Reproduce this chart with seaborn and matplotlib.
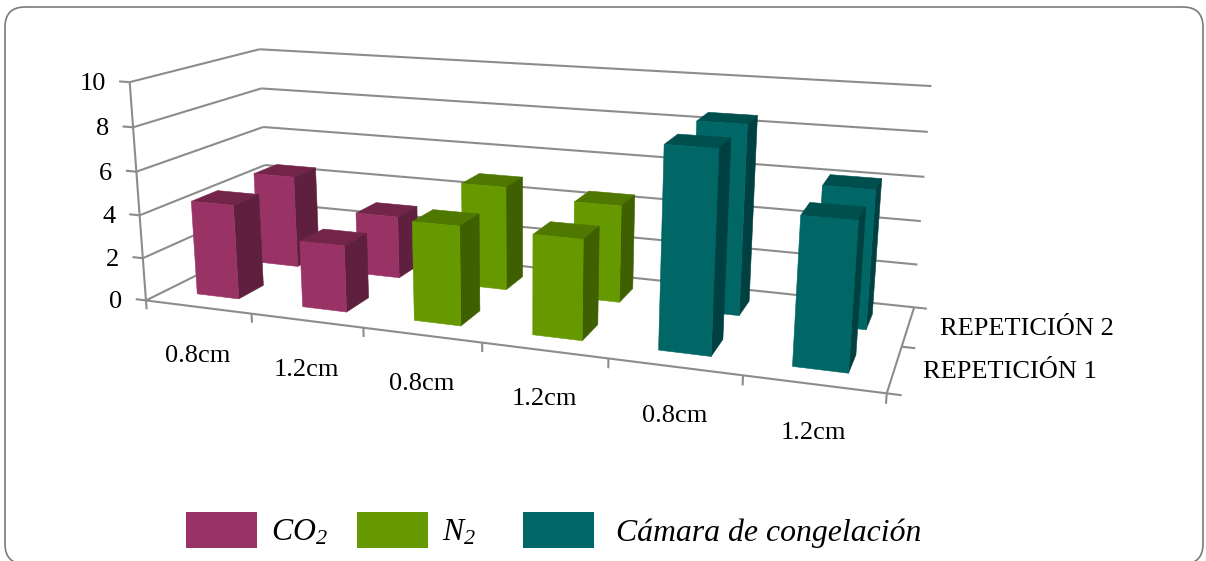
import numpy as np
import pandas as pd
import seaborn as sns
import matplotlib
matplotlib.use("Agg")
import matplotlib.pyplot as plt
from matplotlib.patches import FancyBboxPatch, Patch
from matplotlib.transforms import IdentityTransform
from mpl_toolkits.mplot3d.art3d import Line3DCollection

# ---- data ----
thickness = ["0.8cm", "1.2cm", "0.8cm", "1.2cm", "0.8cm", "1.2cm"]
treatment = ["CO2", "CO2", "N2", "N2", "Camara", "Camara"]
repetition_1 = [4.4, 3.05, 4.45, 4.4, 8.6, 6.2]
repetition_2 = [4.5, 3.0, 4.9, 4.5, 8.55, 6.15]
repetitions = ["REPETICIÓN 1", "REPETICIÓN 2"]
value_ticks = [0, 2, 4, 6, 8, 10]

sns.set_theme(style="white")
plt.rcParams["font.family"] = ["Liberation Serif"]
plt.rcParams["mathtext.fontset"] = "custom"
plt.rcParams["mathtext.it"] = "Liberation Serif:italic"
plt.rcParams["mathtext.rm"] = "Liberation Serif:italic"

front = dict(zip(["CO2", "N2", "Camara"], sns.color_palette(["#993366", "#669900", "#006666"])))
top = dict(CO2="#732549", N2="#4f7800", Camara="#004f4f")
side = dict(CO2="#5f2040", N2="#3f6000", Camara="#004040")
line_grey = "#8c8c8c"

W, H = 1206, 561
fig = plt.figure(figsize=(W / 100, H / 100), dpi=100, facecolor="white")

# Rounded chart border, open past the lower canvas edge
fig.add_artist(FancyBboxPatch((5, -3), 1198, 557, boxstyle="round,pad=0,rounding_size=20",
                              transform=IdentityTransform(), fc="none", ec="#7a7a7a", lw=1.2))

ax = fig.add_axes([0, 0, 1, 1], projection="3d", computed_zorder=False)
ax.set_axis_off()
ax.patch.set_alpha(0)
ax.set_autoscale_on(False)
ax.apply_aspect = lambda position=None: None
ax.viewLim.set_points(np.array([[0.0, 0.0], [W, H]]))

# Camera: least-squares homogeneous projection from axis anchors (category, row, value) to canvas
anchors = np.array([
    (0, 0, 0, 146, 301), (1, 0, 0, 251, 314), (3, 0, 0, 482, 343), (5, 0, 0, 743, 375),
    (6, 0, 0, 887, 393), (6, 2, 0, 914, 307), (0, 0, 10, 129.5, 83), (0, 0, 8, 133, 127),
    (0, 0, 6, 136.5, 171), (0, 0, 4, 140, 215), (0, 0, 2, 143, 258), (0, 2, 10, 259.5, 49),
    (0, 2, 8, 261, 88.5), (0, 2, 6, 263, 127), (0, 2, 4, 265.5, 165), (6, 2, 10, 931.5, 86),
    (6, 2, 8, 927.5, 132), (6, 2, 6, 924.5, 177), (6, 2, 4, 921, 221), (6, 2, 2, 917.5, 265),
], dtype=float)
rows_a, rhs = [], []
for X, Y, Z, u, v in anchors:
    v = H - v
    rows_a.append([X, Y, Z, 1, 0, 0, 0, 0, -u * X, -u * Y, -u * Z]); rhs.append(u)
    rows_a.append([0, 0, 0, 0, X, Y, Z, 1, -v * X, -v * Y, -v * Z]); rhs.append(v)
p = np.linalg.lstsq(np.array(rows_a), np.array(rhs), rcond=None)[0]
camera = np.array([[p[0], p[1], p[2], p[3]],
                   [p[4], p[5], p[6], p[7]],
                   [0.0, 1.0, 0.0, 0.0],
                   [p[8], p[9], p[10], 1.0]])
ax.get_proj = lambda: camera


def canvas(x, y, z):
    """Canvas position of a point given as (category, row, value)."""
    q = camera @ np.array([x, y, z, 1.0])
    return q[0] / q[3], q[1] / q[3]


def label(x, y, z, s, dx=0, dy=0, **kw):
    u, v = canvas(x, y, z)
    ax.text2D(u + dx, v + dy, s, transform=ax.transData, color="black", fontsize=19, zorder=10, **kw)


# Gridlines on the two walls, axis lines and tick marks
segments = []
for v in value_ticks:
    segments += [[(0, 0, v), (0, 2, v)], [(0, 2, v), (6, 2, v)], [(0, 0, v), (-0.1, 0, v)]]
    label(0, 0, v, str(v), dx=-24, dy=-2, ha="right", va="center")
segments += [[(0, 0, 0), (0, 0, 10)], [(0, 0, 0), (6, 0, 0)], [(6, 0, 0), (6, 2, 0)]]
segments += [[(c, 0, 0), (c, 0, -0.42)] for c in range(7)]
segments += [[(6, r, 0), (6.1, r, 0)] for r in range(3)]
ax.add_collection3d(Line3DCollection(segments, colors=line_grey, linewidths=1.5, zorder=1))

# Bars, back row first so the front row overlaps it
bar_w = 0.4
bar_d = 0.4
none = (0, 0, 0, 0)
for row, values in [(1, repetition_2), (0, repetition_1)]:
    for c, (val, kind) in enumerate(zip(values, treatment)):
        faces = [none, top[kind], front[kind], none, none, side[kind]]
        ax.bar3d(c + 0.5 - bar_w / 2, row + 0.5 - bar_d / 2, 0, bar_w, bar_d, val,
                 color=faces, edgecolor=faces, linewidth=0.4, shade=False, zorder=3 + (1 - row))

# Category and depth labels
for c, name in enumerate(thickness):
    label(c + 0.5, 0, 0, name, dy=-49, ha="center", va="center")
label(6, 0.5, 0, repetitions[0], dx=28, dy=-3, ha="left", va="center")
label(6, 1.5, 0, repetitions[1], dx=32, dy=-3, ha="left", va="center")

legend_labels = ["$CO_2$", "$N_2$   ", " Cámara de congelación"]
handles = [Patch(fc=front[k], ec="none") for k in ["CO2", "N2", "Camara"]]
leg = fig.legend(handles, legend_labels, ncol=3, frameon=False, loc="center",
                 bbox_to_anchor=(553.5 / W, 1 - 530 / H), fontsize=22.85,
                 handlelength=2.25, handleheight=1.33, handletextpad=0.44, columnspacing=0.92)
for t in leg.get_texts():
    t.set_fontstyle("italic")
    t.set_color("black")

fig.savefig("out.png", dpi=100, facecolor="white")
